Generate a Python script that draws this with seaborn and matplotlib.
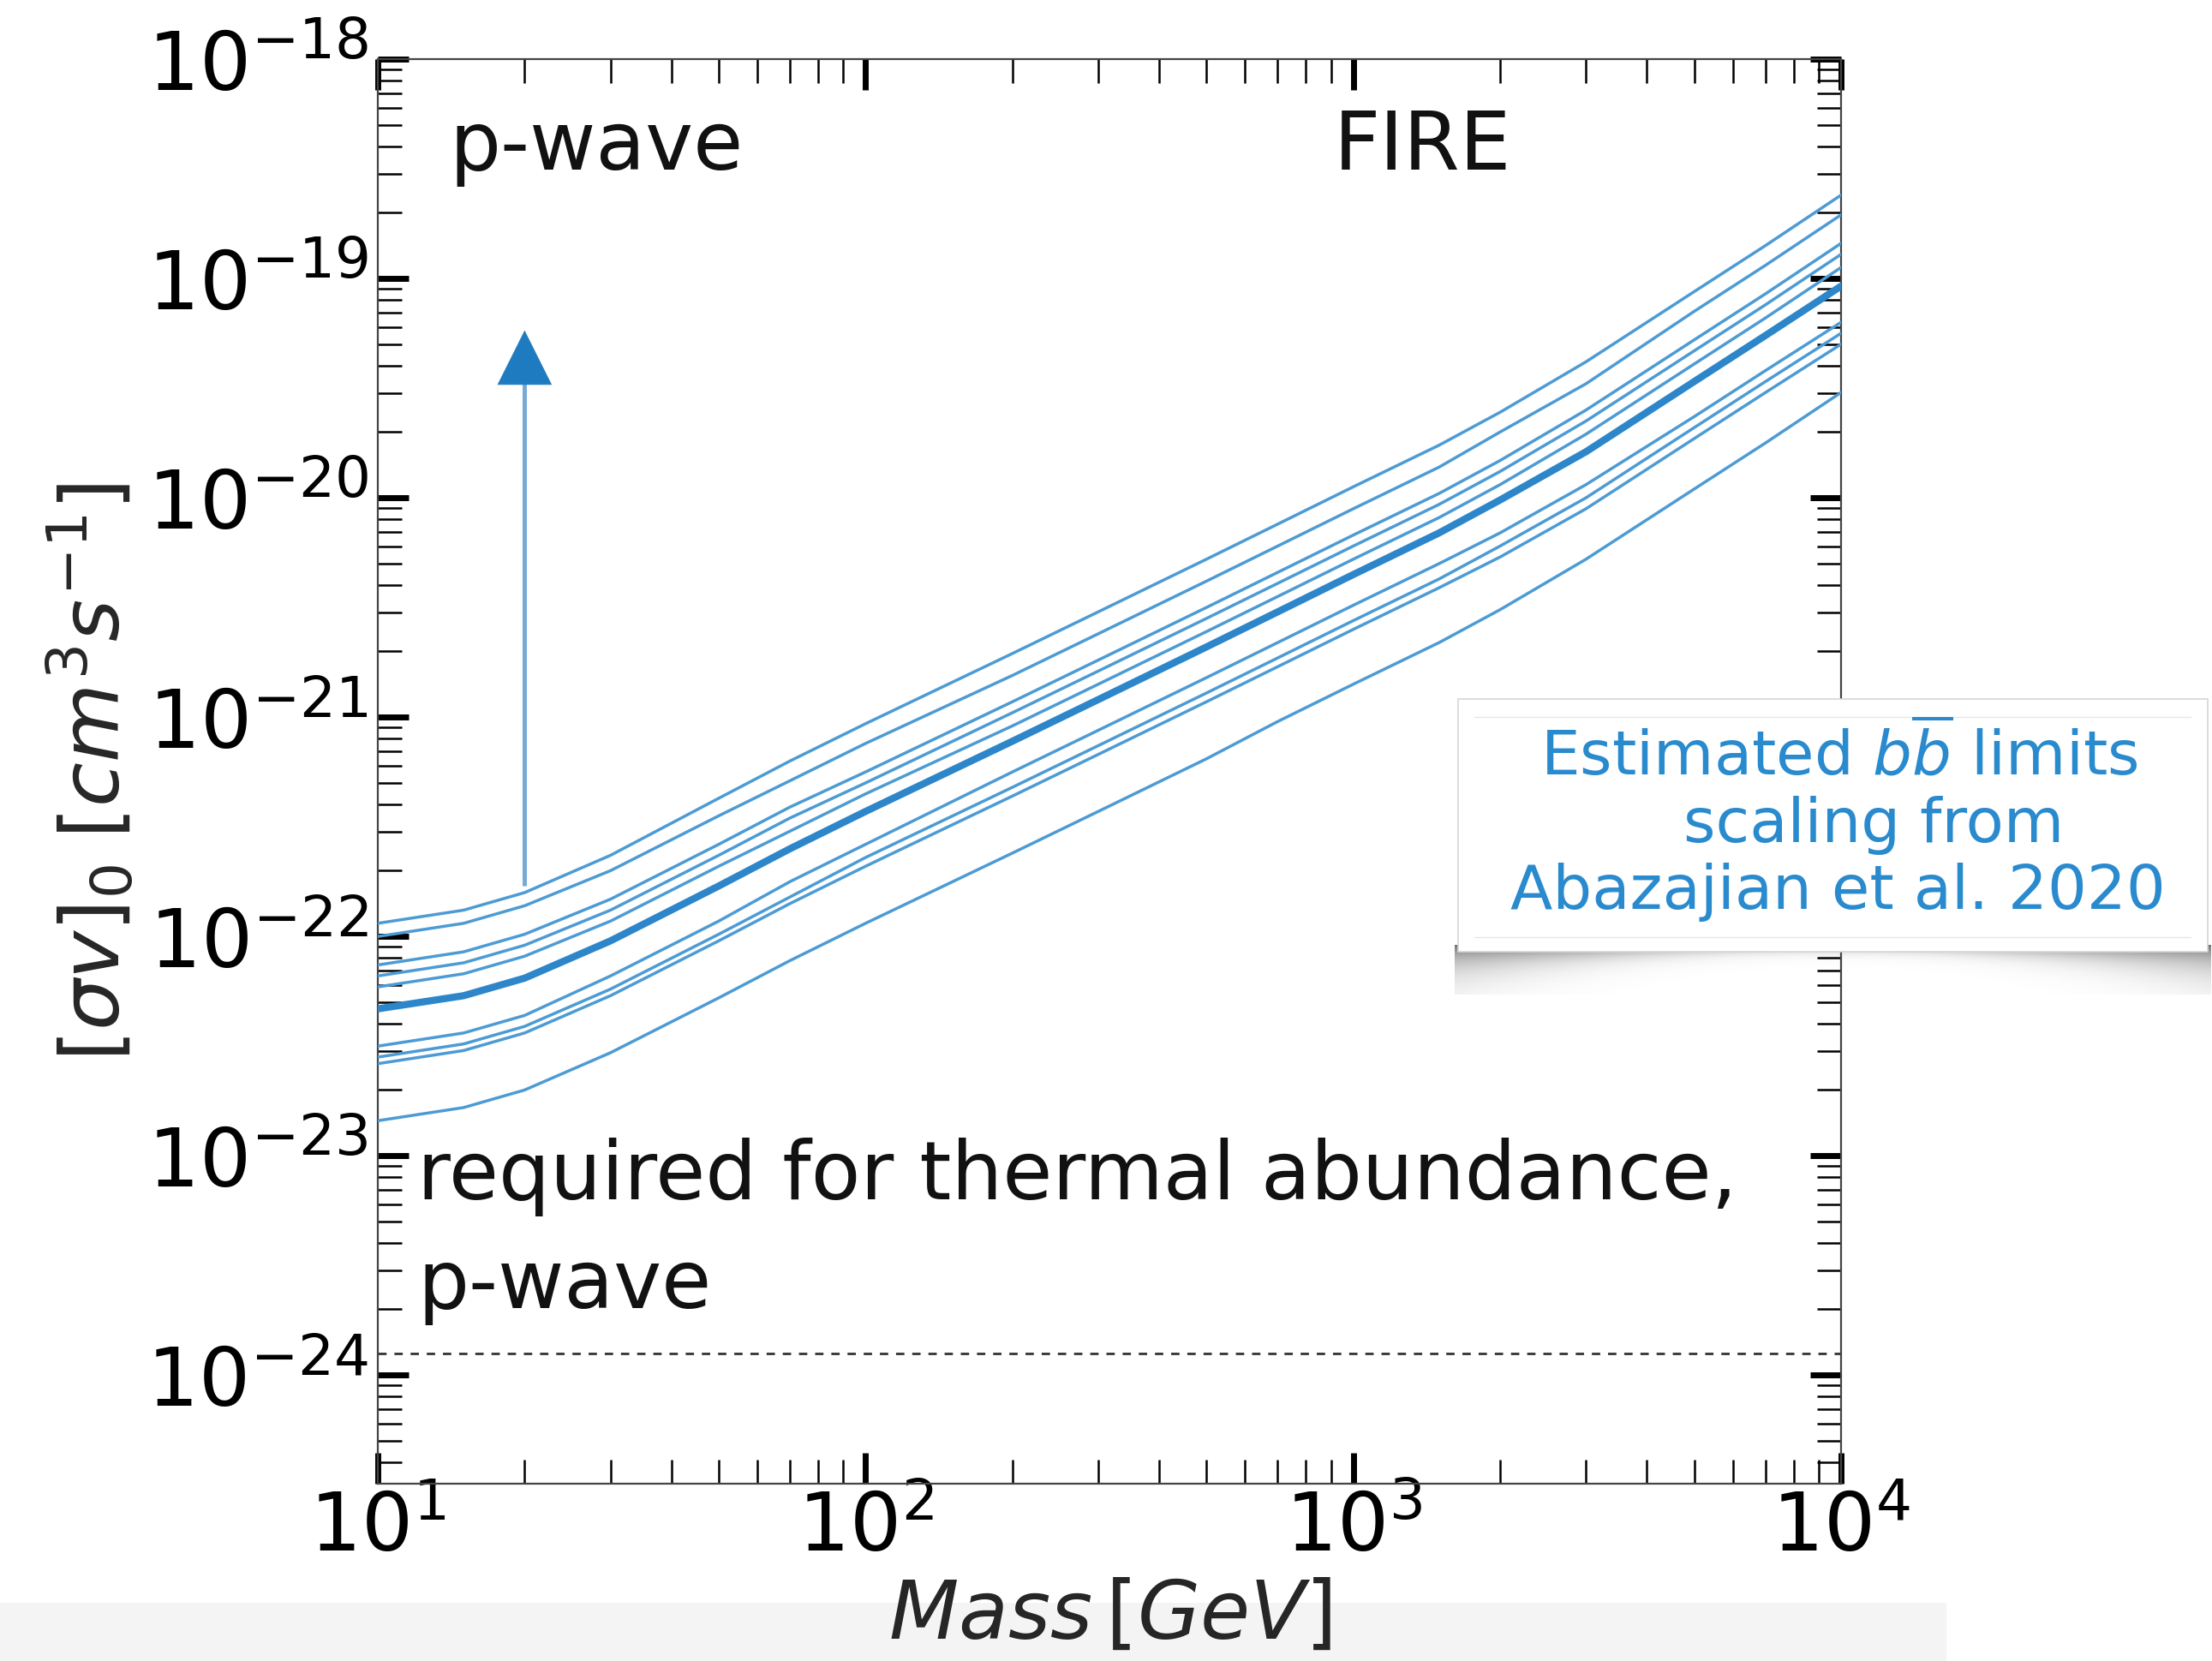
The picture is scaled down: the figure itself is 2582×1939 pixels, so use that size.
import numpy as np
import pandas as pd
import matplotlib
matplotlib.use("Agg")
import matplotlib.pyplot as plt
import seaborn as sns
from matplotlib.ticker import LogLocator, NullFormatter
from matplotlib.patches import Rectangle
from matplotlib.lines import Line2D

# ---- data -------------------------------------------------------------
mass_gev = [10, 15, 20, 30, 50, 70, 100, 200, 300, 500, 700, 1000, 1500, 2000, 3000, 5000, 7000, 10000]

# log10 of the p-wave <sigma v>_0 limit per simulated halo [cm^3 s^-1]
log_sigv_halo_1 = [-21.94, -21.88, -21.80, -21.63, -21.37, -21.20, -21.03, -20.71, -20.52, -20.28, -20.12, -19.95, -19.76, -19.61, -19.38, -19.06, -18.85, -18.62]
log_sigv_halo_2 = [-22.00, -21.94, -21.86, -21.70, -21.45, -21.29, -21.12, -20.81, -20.62, -20.38, -20.22, -20.05, -19.86, -19.70, -19.48, -19.15, -18.94, -18.71]
log_sigv_halo_3 = [-22.13, -22.07, -21.99, -21.83, -21.58, -21.41, -21.25, -20.93, -20.74, -20.50, -20.34, -20.17, -19.98, -19.83, -19.60, -19.28, -19.07, -18.84]
log_sigv_halo_4 = [-22.18, -22.12, -22.04, -21.88, -21.63, -21.46, -21.30, -20.98, -20.79, -20.55, -20.39, -20.22, -20.03, -19.88, -19.65, -19.33, -19.12, -18.89]
log_sigv_halo_5 = [-22.23, -22.17, -22.09, -21.93, -21.68, -21.52, -21.35, -21.04, -20.85, -20.61, -20.45, -20.28, -20.09, -19.94, -19.71, -19.39, -19.18, -18.95]
log_sigv_halo_6 = [-22.50, -22.44, -22.36, -22.18, -21.93, -21.75, -21.58, -21.25, -21.06, -20.82, -20.66, -20.49, -20.30, -20.16, -19.94, -19.63, -19.42, -19.20]
log_sigv_halo_7 = [-22.55, -22.49, -22.41, -22.24, -21.99, -21.82, -21.64, -21.32, -21.13, -20.89, -20.73, -20.56, -20.37, -20.22, -20.00, -19.68, -19.47, -19.25]
log_sigv_halo_8 = [-22.58, -22.52, -22.44, -22.27, -22.02, -21.85, -21.68, -21.36, -21.17, -20.93, -20.77, -20.60, -20.41, -20.27, -20.05, -19.73, -19.52, -19.30]
log_sigv_halo_9 = [-22.84, -22.78, -22.70, -22.53, -22.28, -22.11, -21.94, -21.62, -21.43, -21.19, -21.02, -20.85, -20.66, -20.51, -20.28, -19.96, -19.75, -19.52]
log_sigv_median = [-22.33, -22.27, -22.19, -22.02, -21.77, -21.60, -21.43, -21.11, -20.92, -20.68, -20.52, -20.35, -20.16, -20.01, -19.79, -19.47, -19.26, -19.035]

halo_names = ["h1", "h2", "h3", "h4", "h5", "h6", "h7", "h8", "h9"]
halo_logs = [log_sigv_halo_1, log_sigv_halo_2, log_sigv_halo_3, log_sigv_halo_4, log_sigv_halo_5,
             log_sigv_halo_6, log_sigv_halo_7, log_sigv_halo_8, log_sigv_halo_9]

thermal_pwave = 1.25e-24          # required for thermal abundance (p-wave)
arrow_mass = 20
arrow_start = 1.7e-22
arrow_head_base = 3.3e-20
arrow_tip = 5.8e-20

x_limits = (10, 1e4)
y_limits = (3.2e-25, 1e-18)

halos = pd.DataFrame({
    "mass": np.tile(mass_gev, len(halo_names)),
    "sigv": 10.0 ** np.concatenate(halo_logs),
    "halo": np.repeat(halo_names, len(mass_gev)),
})
median = pd.DataFrame({"mass": mass_gev, "sigv": 10.0 ** np.asarray(log_sigv_median)})

# ---- style ------------------------------------------------------------
sns.set_theme(style="ticks")
plt.rcParams["font.family"] = ["DejaVu Sans"]
plt.rcParams["mathtext.fontset"] = "dejavusans"
plt.rcParams["axes.edgecolor"] = "#444444"
plt.rcParams["axes.linewidth"] = 1.6

W, H = 2582, 1940
fig = plt.figure(figsize=(W / 100, H / 100), dpi=100)
fig.patch.set_facecolor("white")

# light band along the bottom edge
fig.add_artist(Rectangle((0, 0), 2272 / W, 68 / H, transform=fig.transFigure,
                         facecolor="#f4f4f4", edgecolor="none", zorder=0))

ax_l, ax_r, ax_t, ax_b = 441, 2149, 70, 1733
ax = fig.add_axes([ax_l / W, 1 - ax_b / H, (ax_r - ax_l) / W, (ax_b - ax_t) / H])
ax.set_facecolor("white")
ax.set_xscale("log")
ax.set_yscale("log")

thin_color = "#4d9bd4"
thick_color = "#2d86c9"

sns.lineplot(data=halos, x="mass", y="sigv", units="halo", estimator=None,
             color=thin_color, lw=2.5, ax=ax, legend=False, zorder=3)
sns.lineplot(data=median, x="mass", y="sigv", color=thick_color, lw=6.0,
             ax=ax, legend=False, zorder=4)

ax.axhline(thermal_pwave, color="#333333", lw=2.0, dashes=(3.5, 3.3), zorder=2)

# upward arrow
ax.plot([arrow_mass, arrow_mass], [arrow_start, arrow_head_base],
        color="#76abd6", lw=3.6, solid_capstyle="butt", zorder=5)
ax.annotate("", xy=(arrow_mass, arrow_tip), xytext=(arrow_mass, arrow_head_base),
            arrowprops=dict(arrowstyle="-|>,head_length=4.5,head_width=2.25",
                            mutation_scale=10, color="#1f7bc0", lw=0.5,
                            shrinkA=0, shrinkB=0), zorder=6)

ax.set_xlim(*x_limits)
ax.set_ylim(*y_limits)

for axis in (ax.xaxis, ax.yaxis):
    axis.set_major_locator(LogLocator(base=10, numticks=20))
    axis.set_minor_locator(LogLocator(base=10, subs=np.arange(2, 10), numticks=200))
    axis.set_minor_formatter(NullFormatter())

ax.tick_params(which="both", direction="in", top=True, right=True, colors="black")
ax.tick_params(which="major", length=26, width=5, labelsize=68)
ax.tick_params(which="minor", length=20, width=1.8)
ax.tick_params(axis="y", which="major", pad=8)
ax.tick_params(axis="x", which="major", pad=4)

ax.set_xlabel(r"$Mass\,[GeV]$", fontsize=68)
ax.set_ylabel(r"$[\sigma v]_0\;[cm^3 s^{-1}]$", fontsize=68)
ax.xaxis.set_label_coords(0.5, -0.065)
ax.yaxis.set_label_coords(-0.165, 0.5)

txt = dict(transform=ax.transAxes, fontsize=68, va="baseline", ha="left", color="#111111")
ax.text(0.0486, 0.923, "p-wave", **txt)
ax.text(0.653, 0.923, "FIRE", **txt)
ax.text(0.027, 0.200, "required for thermal abundance,", **txt)
ax.text(0.027, 0.124, "p-wave", **txt)

# ---- callout box ------------------------------------------------------
bx_l, bx_r, bx_t, bx_b = 1702, 2577, 817, 1112

# curled drop shadow under the box
sh_h = 50
shadow_ax = fig.add_axes([(bx_l - 4) / W, 1 - (bx_b + sh_h) / H, (bx_r - bx_l + 8) / W, (sh_h + 8) / H])
shadow_ax.set_zorder(4)
shadow_ax.axis("off")
nx, ny = 400, 60
u = np.linspace(0, 1, nx)
v = np.linspace(0, 1, ny)[:, None]
depth = 0.20 + 0.80 * np.abs(2 * u - 1) ** 2.2
alpha = 0.92 * np.exp(-2.4 * v / depth[None, :])
rgba = np.zeros((ny, nx, 4))
rgba[..., :3] = 0.40
rgba[..., 3] = alpha
shadow_ax.imshow(rgba, aspect="auto", extent=(0, 1, 0, 1), origin="upper",
                 interpolation="bilinear")
shadow_ax.set_xlim(0, 1)
shadow_ax.set_ylim(0, 1)

fig.add_artist(Rectangle((bx_l / W, 1 - bx_b / H), (bx_r - bx_l) / W, (bx_b - bx_t) / H,
                         transform=fig.transFigure, facecolor="white",
                         edgecolor="#d6d6d6", lw=1.2, zorder=5))
for yy in (838, 1095):
    fig.add_artist(Line2D([1721 / W, 2557 / W], [1 - yy / H, 1 - yy / H],
                          transform=fig.transFigure, color="#e6e6e6", lw=1.0, zorder=6))

box_txt = dict(fontsize=52, color="#2a8ace", ha="center", va="baseline", zorder=7)
fig.text(2147 / W, 1 - 905 / H, r"Estimated $b\overline{b}$ limits", **box_txt)
fig.text(2187 / W, 1 - 983 / H, "scaling from", **box_txt)
fig.text(2145 / W, 1 - 1061 / H, "Abazajian et al. 2020", **box_txt)

fig.savefig("out.png", dpi=100)
